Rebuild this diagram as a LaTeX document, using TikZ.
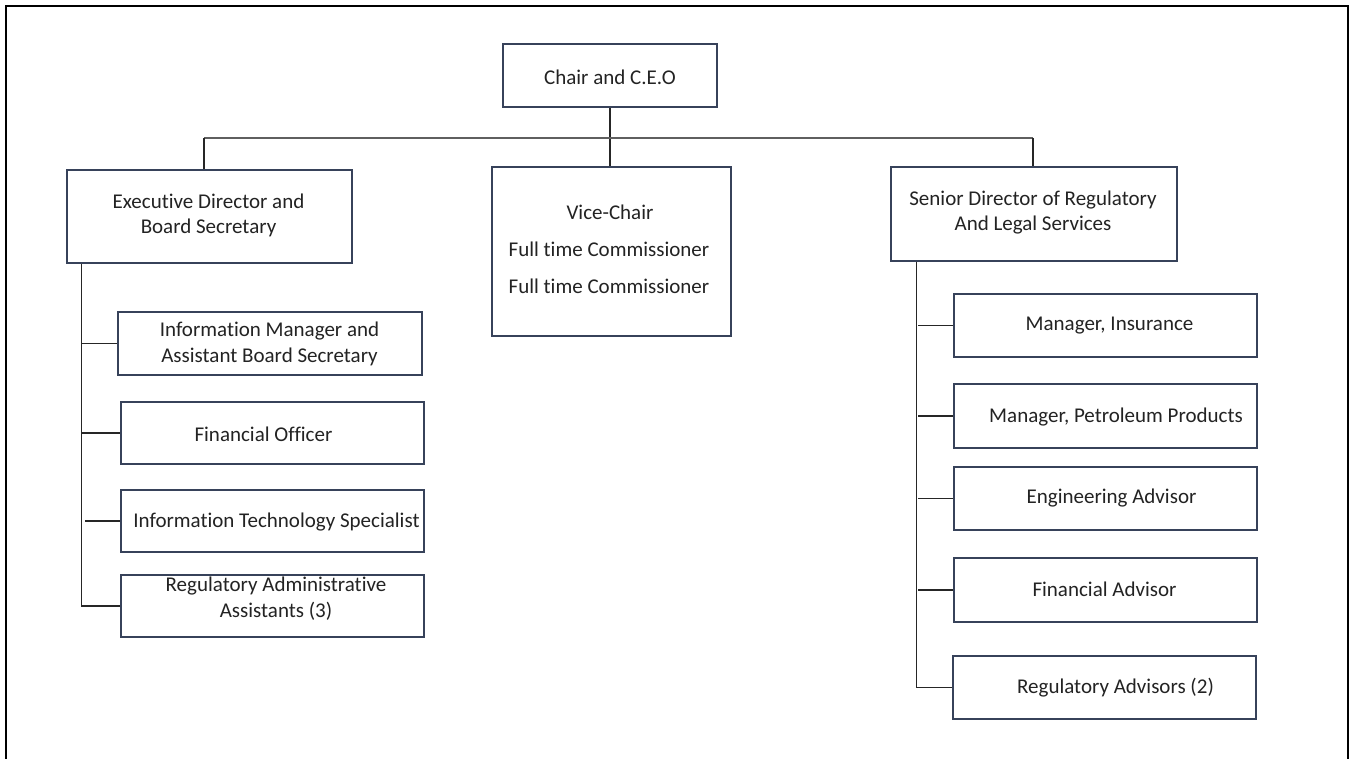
\documentclass[tikz,border=0pt]{standalone}
\usepackage{fontspec}
\setmainfont{Carlito}[Ligatures={NoCommon}]
\definecolor{boxline}{RGB}{55,66,90}
\definecolor{txtcol}{RGB}{35,35,35}
\definecolor{buscol}{RGB}{95,95,95}
\begin{document}
\begin{tikzpicture}[x=1pt,y=-1pt,
  box/.style={draw=boxline,line width=1.2pt,fill=white,inner sep=0pt},
  txt/.style={text=txtcol,font=\fontsize{21}{25.5}\selectfont,align=center,inner sep=0pt},
  conn/.style={draw=black!85,line width=1.2pt},
  bus/.style={draw=buscol,line width=1.6pt}]
\useasboundingbox (0,0) rectangle (1352,759);
% outer frame
\draw[line width=2pt] (6,760) -- (6,6) -- (1348,6) -- (1348,760);

% boxes
\node[box,minimum width=214pt,minimum height=63pt] (ceo) at (610,75.5) {};
\node[box,minimum width=285pt,minimum height=93pt] (exec) at (209.5,216.5) {};
\node[box,minimum width=239pt,minimum height=169pt] (vice) at (611.5,251.5) {};
\node[box,minimum width=286pt,minimum height=94pt] (sdir) at (1034,214) {};

\node[box,minimum width=304pt,minimum height=63pt] (im) at (270,343.5) {};
\node[box,minimum width=303pt,minimum height=62pt] (fo) at (272.5,433) {};
\node[box,minimum width=303pt,minimum height=62pt] (it) at (272.5,521) {};
\node[box,minimum width=303pt,minimum height=62pt] (ra) at (272.5,606) {};

\node[box,minimum width=303pt,minimum height=63pt] (mi) at (1105.5,325.5) {};
\node[box,minimum width=303pt,minimum height=64pt] (mp) at (1105.5,416) {};
\node[box,minimum width=303pt,minimum height=63pt] (ea) at (1105.5,498.5) {};
\node[box,minimum width=303pt,minimum height=64pt] (fa) at (1105.5,590) {};
\node[box,minimum width=303pt,minimum height=63pt] (rad) at (1104.5,687.5) {};

% texts
\node[txt] (tceo) at (610,77) {Chair and C.E.O};
\node[txt] (texec) at (208.5,215.5) {Executive Director and\\Board Secretary};
\node[txt] (tv1) at (610,212) {Vice-Chair};
\node[txt] (tv2) at (609,249) {Full time Commissioner};
\node[txt] (tv3) at (609,286) {Full time Commissioner};
\node[txt] (tsdir) at (1033,212.5) {Senior Director of Regulatory\\And Legal Services};
\node[txt] (tim) at (269.5,344) {Information Manager and\\Assistant Board Secretary};
\node[txt] (tfo) at (263.5,434) {Financial Officer};
\node[txt] (tit) at (276.5,522) {Information Technology Specialist};
\node[txt] (tra) at (276,598.5) {Regulatory Administrative\\Assistants (3)};
\node[txt] (tmi) at (1109.5,326) {Manager, Insurance};
\node[txt] (tmp) at (1116,417) {Manager, Petroleum Products};
\node[txt] (tea) at (1111.5,498) {Engineering Advisor};
\node[txt] (tfa) at (1104.5,589) {Financial Advisor};
\node[txt] (trad) at (1115.5,688) {Regulatory Advisors (2)};

% top connectors
\coordinate (bus) at (611,138);
\coordinate (dl) at ([xshift=-5.5pt]exec.north);
\coordinate (dr) at ([xshift=-1pt]sdir.north);
\draw[conn] (ceo.south) -- (ceo.south |- vice.north);
\draw[bus] (dl |- bus) -- (dr |- bus);
\draw[conn] (dl |- bus) -- (dl);
\draw[conn] (dr |- bus) -- (dr);

% left spine
\coordinate (ls) at ([xshift=15pt]exec.south west);
\draw[conn] (ls) |- (ra.west);
\draw[conn] (ls |- im.west) -- (im.west);
\draw[conn] (ls |- fo.west) -- (fo.west);
\draw[conn] ([xshift=4pt]ls |- it.west) -- (it.west);

% right spine
\coordinate (rs) at ([xshift=26pt]sdir.south west);
\draw[conn] (rs) |- (rad.west);
\draw[conn] ([xshift=2pt]rs |- mi.west) -- (mi.west);
\draw[conn] ([xshift=2pt]rs |- mp.west) -- (mp.west);
\draw[conn] ([xshift=2pt]rs |- ea.west) -- (ea.west);
\draw[conn] ([xshift=2pt]rs |- fa.west) -- (fa.west);
\end{tikzpicture}
\end{document}
